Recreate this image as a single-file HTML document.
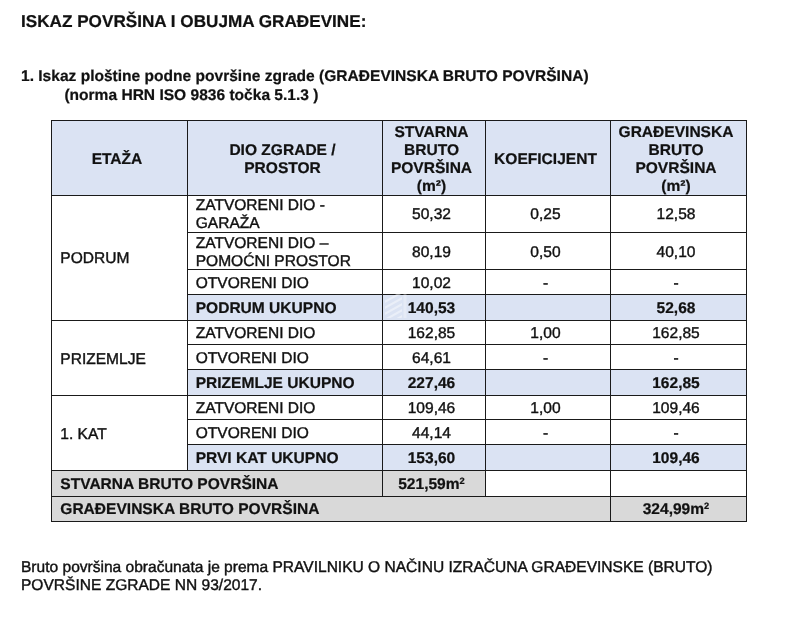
<!DOCTYPE html>
<html lang="hr">
<head>
<meta charset="utf-8">
<title>Iskaz površina i obujma građevine</title>
<style>
html,body{margin:0;padding:0;background:#fff;}
body{width:793px;height:640px;position:relative;overflow:hidden;text-rendering:geometricPrecision;-webkit-text-stroke:0.4px #111;font-family:"Liberation Sans",Arial,sans-serif;color:#111;}
.abs{position:absolute;white-space:nowrap;}
h1{position:absolute;margin:0;left:21px;top:9px;font-size:17.15px;line-height:24px;font-weight:bold;white-space:nowrap;}
.sub{position:absolute;left:21px;top:67px;font-size:15.55px;line-height:19px;font-weight:bold;white-space:nowrap;}
.sub .l2{padding-left:43.4px;}
.foot{position:absolute;left:21px;top:559px;font-size:15.55px;line-height:18px;white-space:nowrap;}
table{position:absolute;left:51px;top:120px;border-collapse:collapse;table-layout:fixed;width:696px;font-size:15.55px;line-height:18px;}
td,th{border:1px solid #1a1a1a;padding:0;overflow:hidden;vertical-align:middle;font-weight:normal;}
th{background:#dbe3f3;font-weight:bold;text-align:center;padding:0 5px 0 0;}
.t{position:relative;top:1px;}
th .t{top:2px;}
tr.o .t{top:2px;}
td[rowspan="3"] .t{top:2px;}
td.c{text-align:center;padding-right:5px;}
td.l{text-align:left;padding-left:7.7px;}
td.e{text-align:left;padding-left:8.3px;}
tr.u td{background:#dbe3f3;font-weight:bold;}
tr.u td.e{background:#fff;}
td.g{background:#d9d9d9;font-weight:bold;}
h1,.sub,th,tr.u td,td.g{-webkit-text-stroke-width:0.22px;}
.wm{position:absolute;left:383px;top:283px;pointer-events:none;}
sup{font-size:9.3px;line-height:0;vertical-align:baseline;position:relative;top:-4.6px;}
</style>
</head>
<body>
<h1>ISKAZ POVRŠINA I OBUJMA GRAĐEVINE:</h1>
<div class="sub">1. Iskaz ploštine podne površine zgrade (GRAĐEVINSKA BRUTO POVRŠINA)<br><span class="l2">(norma HRN ISO 9836 točka 5.1.3 )</span></div>

<table>
<colgroup><col style="width:136px"><col style="width:195px"><col style="width:103px"><col style="width:125px"><col style="width:136px"></colgroup>
<tr style="height:75px"><th><div class="t">ETAŽA</div></th><th><div class="t">DIO ZGRADE /<br>PROSTOR</div></th><th><div class="t">STVARNA<br>BRUTO<br>POVRŠINA<br>(m²)</div></th><th><div class="t">KOEFICIJENT</div></th><th><div class="t">GRAĐEVINSKA<br>BRUTO<br>POVRŠINA<br>(m²)</div></th></tr>
<tr style="height:37px"><td class="e" rowspan="4"><div class="t">PODRUM</div></td><td class="l"><div class="t">ZATVORENI DIO -<br>GARAŽA</div></td><td class="c"><div class="t">50,32</div></td><td class="c"><div class="t">0,25</div></td><td class="c"><div class="t">12,58</div></td></tr>
<tr class="o" style="height:37px"><td class="l"><div class="t">ZATVORENI DIO –<br>POMOĆNI PROSTOR</div></td><td class="c"><div class="t">80,19</div></td><td class="c"><div class="t">0,50</div></td><td class="c"><div class="t">40,10</div></td></tr>
<tr class="o" style="height:25px"><td class="l"><div class="t">OTVORENI DIO</div></td><td class="c"><div class="t">10,02</div></td><td class="c"><div class="t">-</div></td><td class="c"><div class="t">-</div></td></tr>
<tr style="height:26px" class="u"><td class="l"><div class="t">PODRUM UKUPNO</div></td><td class="c"><div class="t">140,53</div></td><td class="c"></td><td class="c"><div class="t">52,68</div></td></tr>
<tr style="height:24px"><td class="e" rowspan="3"><div class="t">PRIZEMLJE</div></td><td class="l"><div class="t">ZATVORENI DIO</div></td><td class="c"><div class="t">162,85</div></td><td class="c"><div class="t">1,00</div></td><td class="c"><div class="t">162,85</div></td></tr>
<tr class="o" style="height:25px"><td class="l"><div class="t">OTVORENI DIO</div></td><td class="c"><div class="t">64,61</div></td><td class="c"><div class="t">-</div></td><td class="c"><div class="t">-</div></td></tr>
<tr style="height:26px" class="u"><td class="l"><div class="t">PRIZEMLJE UKUPNO</div></td><td class="c"><div class="t">227,46</div></td><td class="c"></td><td class="c"><div class="t">162,85</div></td></tr>
<tr style="height:24px"><td class="e" rowspan="3"><div class="t">1. KAT</div></td><td class="l"><div class="t">ZATVORENI DIO</div></td><td class="c"><div class="t">109,46</div></td><td class="c"><div class="t">1,00</div></td><td class="c"><div class="t">109,46</div></td></tr>
<tr class="o" style="height:25px"><td class="l"><div class="t">OTVORENI DIO</div></td><td class="c"><div class="t">44,14</div></td><td class="c"><div class="t">-</div></td><td class="c"><div class="t">-</div></td></tr>
<tr style="height:26px" class="u"><td class="l"><div class="t">PRVI KAT UKUPNO</div></td><td class="c"><div class="t">153,60</div></td><td class="c"></td><td class="c"><div class="t">109,46</div></td></tr>
<tr style="height:26px"><td class="g e" colspan="2"><div class="t">STVARNA BRUTO POVRŠINA</div></td><td class="g c"><div class="t">521,59m<sup>2</sup></div></td><td></td><td></td></tr>
<tr style="height:25px"><td class="g e" colspan="4"><div class="t">GRAĐEVINSKA BRUTO POVRŠINA</div></td><td class="g c"><div class="t">324,99m<sup>2</sup></div></td></tr>
</table>

<svg class="wm" width="30" height="40" viewBox="0 0 30 40" aria-hidden="true">
<defs><clipPath id="wmc"><polygon points="2,14 19,5 19,35 2,35"/></clipPath></defs>
<g clip-path="url(#wmc)" stroke="#fff" stroke-opacity="0.42" stroke-width="2.2" fill="none">
<line x1="0" y1="20" x2="21" y2="8"/><line x1="0" y1="26" x2="21" y2="14"/><line x1="0" y1="32" x2="21" y2="20"/><line x1="0" y1="38" x2="21" y2="26"/><line x1="0" y1="44" x2="21" y2="32"/>
</g>
<rect x="20.5" y="1" width="3" height="34" fill="#fff" fill-opacity="0.3"/>
</svg>
<div class="foot">Bruto površina obračunata je prema PRAVILNIKU O NAČINU IZRAČUNA GRAĐEVINSKE (BRUTO)<br>POVRŠINE ZGRADE NN 93/2017.</div>
</body>
</html>
